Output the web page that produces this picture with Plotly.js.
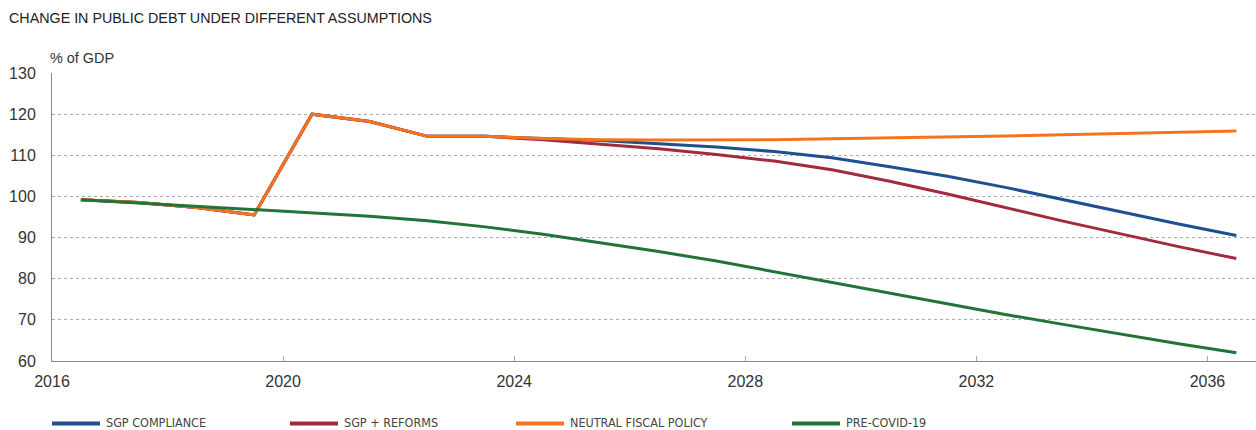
<!DOCTYPE html>
<html>
<head>
<meta charset="utf-8">
<script src="https://cdn.plot.ly/plotly-3.0.1.min.js"></script>
<style>
  html, body { margin: 0; padding: 0; background: #fff; }
  #chart { width: 1256px; height: 430px; }
</style>
</head>
<body>
<div id="chart"></div>
<script>
// Public debt projections, % of GDP, one value per year
const years = [2016, 2017, 2018, 2019, 2020, 2021, 2022, 2023, 2024, 2025, 2026,
               2027, 2028, 2029, 2030, 2031, 2032, 2033, 2034, 2035, 2036];

const sgpCompliance = [99.2, 98.5, 97.3, 95.5, 120.0, 118.2, 114.6, 114.6, 114.1, 113.6, 112.8,
                       112.0, 110.9, 109.4, 107.2, 104.9, 102.2, 99.2, 96.2, 93.3, 90.5];
const sgpReforms = [99.2, 98.5, 97.3, 95.5, 120.0, 118.2, 114.6, 114.6, 113.8, 112.7, 111.6,
                    110.2, 108.6, 106.5, 103.7, 100.6, 97.3, 94.0, 90.9, 87.8, 84.9];
const neutralFiscal = [99.2, 98.5, 97.3, 95.5, 120.0, 118.2, 114.6, 114.6, 114.1, 113.8, 113.7,
                       113.7, 113.8, 114.0, 114.2, 114.4, 114.7, 115.0, 115.3, 115.6, 115.9];
const preCovid = [99.2, 98.4, 97.6, 96.7, 96.0, 95.2, 94.1, 92.6, 90.8, 88.7, 86.6,
                  84.3, 81.7, 79.1, 76.5, 73.8, 71.3, 68.9, 66.5, 64.2, 62.0];

const seriesNames = ['SGP COMPLIANCE', 'SGP + REFORMS', 'NEUTRAL FISCAL POLICY', 'PRE-COVID-19'];
const seriesColors = ['#1d4f91', '#a3293f', '#f47321', '#237336'];
const seriesValues = [sgpCompliance, sgpReforms, neutralFiscal, preCovid];
const xTicks = [2016, 2020, 2024, 2028, 2032, 2036];

// each annual value sits in the middle of its year
const xMid = years.map(y => y + 0.5);

const traces = seriesValues.map((vals, i) => ({
  type: 'scatter',
  mode: 'lines',
  x: xMid,
  y: vals,
  name: seriesNames[i],
  line: { color: seriesColors[i], width: 3 },
  hoverinfo: 'skip',
  showlegend: false
}));

// Key row under the chart: a short colour bar followed by the series name
const plotW = 1204, plotH = 288;             // plot area size in px
const keyStarts = [52, 290, 516, 792];       // left edge of each key bar, px from page left
const keyBarLen = 48, keyTextGap = 53;
const keyBarY = -(423.5 - 361) / plotH;      // bar centre, below the x axis
const keyTextY = -(422.7 - 361) / plotH;     // label centre
const toPaperX = px => (px - 52) / plotW;

const keyShapes = seriesNames.map((n, i) => ({
  type: 'line', xref: 'paper', yref: 'paper',
  x0: toPaperX(keyStarts[i]), x1: toPaperX(keyStarts[i] + keyBarLen),
  y0: keyBarY, y1: keyBarY,
  line: { color: seriesColors[i], width: 4 }
}));
const keyLabels = seriesNames.map((n, i) => ({
  text: n, xref: 'paper', yref: 'paper',
  x: toPaperX(keyStarts[i] + keyTextGap), xanchor: 'left',
  y: keyTextY, yanchor: 'middle',
  showarrow: false, borderpad: 0,
  font: { family: '"DejaVu Sans Condensed", "Liberation Sans Narrow", Arial, sans-serif', size: 12.5, color: '#444' }
}));

const layout = {
  width: 1256,
  height: 430,
  margin: { l: 52, r: 0, t: 73, b: 69, autoexpand: false },
  paper_bgcolor: '#ffffff',
  plot_bgcolor: '#ffffff',
  font: { family: '"Liberation Sans", Arial, Helvetica, sans-serif', color: '#333' },
  title: {
    text: 'CHANGE IN PUBLIC DEBT UNDER DIFFERENT ASSUMPTIONS',
    font: { size: 14.3, color: '#222' },
    x: 9 / 1256, xref: 'container', xanchor: 'left',
    y: 1 - 18 / 430, yref: 'container', yanchor: 'middle'
  },
  xaxis: {
    range: [2016, 2036.84],
    tickvals: xTicks,
    ticktext: xTicks.map(String),
    ticks: 'inside', ticklen: 5, tickcolor: '#aaa', tickwidth: 1,
    tickfont: { size: 16, color: '#333' },
    ticklabelstandoff: 6,
    showgrid: false, zeroline: false,
    showline: true, linecolor: '#888', linewidth: 1,
    fixedrange: true
  },
  yaxis: {
    range: [60, 130],
    dtick: 10,
    tickfont: { size: 16, color: '#333' },
    showgrid: true, gridcolor: '#aaa', gridwidth: 1, griddash: '3px,3px',
    zeroline: false,
    showline: true, linecolor: '#888', linewidth: 1,
    ticks: '', ticklabelstandoff: 12,
    fixedrange: true
  },
  shapes: keyShapes,
  annotations: [{
    text: '% of GDP', xref: 'paper', yref: 'paper',
    x: 0, xanchor: 'left', xshift: -4, y: 1, yanchor: 'bottom', yshift: 5,
    showarrow: false, font: { size: 14.4, color: '#333' }
  }].concat(keyLabels),
  showlegend: false
};

Plotly.newPlot('chart', traces, layout, { displayModeBar: false, staticPlot: true });
</script>
</body>
</html>
